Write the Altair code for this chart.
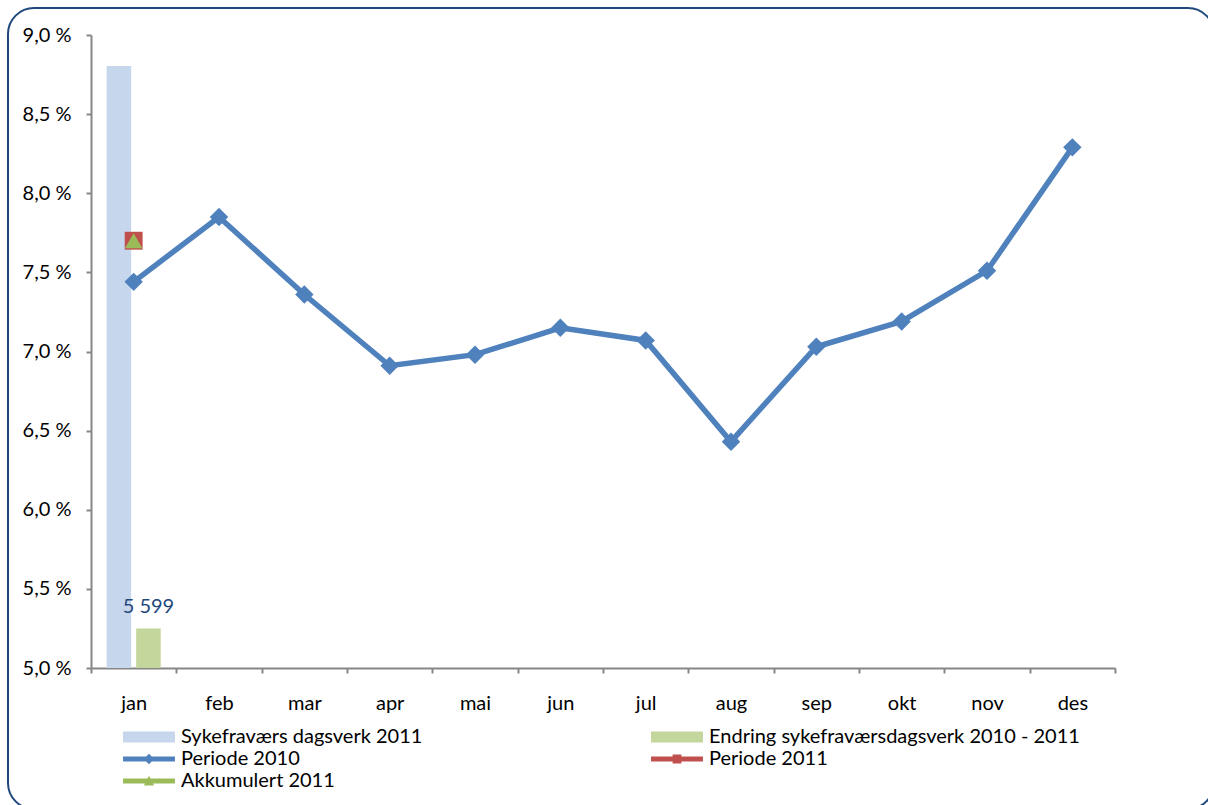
import altair as alt
import pandas as pd

months = ["jan", "feb", "mar", "apr", "mai", "jun", "jul", "aug", "sep", "okt", "nov", "des"]
periode_2010 = [7.44, 7.85, 7.36, 6.91, 6.98, 7.15, 7.07, 6.43, 7.03, 7.19, 7.51, 8.29]
periode_2011_month = ["jan"]
periode_2011 = [7.70]
akkumulert_2011 = [7.70]
bar_month = ["jan", "jan"]
bar_series = ["Sykefraværs dagsverk 2011", "Endring sykefraværsdagsverk 2010 - 2011"]
bar_values = [85600, 5599]
bar_labels = ["", "5 599"]

legend_names = [
    "Sykefraværs dagsverk 2011",
    "Endring sykefraværsdagsverk 2010 - 2011",
    "Periode 2010",
    "Periode 2011",
    "Akkumulert 2011",
]
legend_colors = ["#C6D6EC", "#C3D69B", "#4F81BD", "#C0504D", "#9BBB59"]

FONT = "Lato"
FS = 20

line_df = pd.DataFrame({"month": months, "value": periode_2010})
p11_df = pd.DataFrame({"month": periode_2011_month, "value": periode_2011})
akk_df = pd.DataFrame({"month": periode_2011_month, "value": akkumulert_2011})
bar_df = pd.DataFrame({"month": bar_month, "series": bar_series, "value": bar_values, "label": bar_labels})

x_enc = alt.X(
    "month:N",
    sort=months,
    scale=alt.Scale(domain=months, paddingInner=0, paddingOuter=0),
    axis=alt.Axis(
        title=None, labelAngle=0, tickBand="extent", domainColor="#868686", tickColor="#868686",
        tickSize=5, tickWidth=2, domainWidth=2, labelFont=FONT, labelFontSize=FS, labelColor="#000000",
        labelPadding=20,
    ),
)

y_left_scale = alt.Scale(domain=[5.0, 9.0], zero=False, nice=False)
y_left_axis = alt.Axis(
    title=None, values=[5.0, 5.5, 6.0, 6.5, 7.0, 7.5, 8.0, 8.5, 9.0],
    labelExpr="replace(format(datum.value, '.1f'), '.', ',') + ' %'",
    grid=False, domainColor="#868686", tickColor="#868686", tickSize=5, tickWidth=2, domainWidth=2,
    labelFont=FONT, labelFontSize=FS, labelColor="#000000", labelPadding=15,
)

y_right_scale = alt.Scale(domain=[0, 90000], nice=False)
y_right_axis = alt.Axis(
    title=None, orient="right", values=list(range(0, 90001, 10000)),
    labelExpr="replace(format(datum.value, ',d'), ',', ' ')",
    grid=False, domainColor="#868686", tickColor="#868686", tickSize=5, tickWidth=2, domainWidth=2,
    labelFont=FONT, labelFontSize=FS, labelColor="#000000", labelPadding=13,
)

shape_expr = (
    "datum.value == 'Sykefraværs dagsverk 2011' || datum.value == 'Endring sykefraværsdagsverk 2010 - 2011' "
    "? 'M-2.36,-0.5H2.36V0.5H-2.36Z' : "
    "datum.value == 'Periode 2010' ? 'M-2.36,-0.23H2.36V0.23H-2.36Z M0,-0.48L0.48,0L0,0.48L-0.48,0Z' : "
    "datum.value == 'Periode 2011' ? 'M-2.36,-0.23H2.36V0.23H-2.36Z M-0.4,-0.4H0.4V0.4H-0.4Z' : "
    "'M-2.36,-0.23H2.36V0.23H-2.36Z M0,-0.48L0.46,0.4L-0.46,0.4Z'"
)

xoff_scale = alt.Scale(domain=bar_series, paddingInner=0.17, paddingOuter=0.53)

bars = alt.Chart(bar_df).mark_bar(opacity=1).encode(
    x=x_enc,
    xOffset=alt.XOffset("series:N", sort=bar_series, scale=xoff_scale),
    y=alt.Y("value:Q", scale=y_right_scale, axis=y_right_axis),
    color=alt.Color(
        "series:N",
        scale=alt.Scale(domain=legend_names, range=legend_colors),
        legend=alt.Legend(
            title=None, orient="none", direction="horizontal", legendX=47, legendY=691,
            columns=2, columnPadding=228, rowPadding=1,
            labelFont=FONT, labelFontSize=FS, labelColor="#000000", symbolSize=484,
            symbolStrokeWidth=0, labelOffset=21, labelLimit=600, symbolOpacity=1,
            symbolType={"expr": shape_expr},
        ),
    ),
)

bar_text = alt.Chart(bar_df).mark_text(
    font=FONT, fontSize=FS, color="#1F497D", dy=-16, baseline="alphabetic"
).encode(
    x=alt.X("month:N", sort=months),
    xOffset=alt.XOffset("series:N", sort=bar_series, scale=xoff_scale),
    y=alt.Y("value:Q", scale=y_right_scale, axis=None),
    text="label:N",
)

right_layer = alt.layer(bars, bar_text)

line = alt.Chart(line_df).mark_line(color="#4F81BD", strokeWidth=5.5).encode(
    x=alt.X("month:N", sort=months),
    y=alt.Y("value:Q", scale=y_left_scale, axis=y_left_axis),
)
line_pts = alt.Chart(line_df).mark_point(shape="diamond", filled=True, size=340, color="#4F81BD", opacity=1).encode(
    x=alt.X("month:N", sort=months),
    y=alt.Y("value:Q", scale=y_left_scale),
)
p11_pts = alt.Chart(p11_df).mark_point(shape="square", filled=True, size=320, color="#C0504D", opacity=1).encode(
    x=alt.X("month:N", sort=months),
    y=alt.Y("value:Q", scale=y_left_scale),
)
akk_pts = alt.Chart(akk_df).mark_point(shape="triangle-up", filled=True, size=300, color="#9BBB59", opacity=1).encode(
    x=alt.X("month:N", sort=months),
    y=alt.Y("value:Q", scale=y_left_scale),
)

left_layer = alt.layer(line, line_pts, p11_pts, akk_pts)

border = alt.Chart(pd.DataFrame({"d": [0]})).mark_rect(
    fill="transparent", stroke="#1F497D", strokeWidth=2, cornerRadius=26, clip=False
).encode(
    x=alt.value(-83), x2=alt.value(1123), y=alt.value(-27), y2=alt.value(774),
)

chart = alt.layer(right_layer, left_layer, border).resolve_scale(y="independent").properties(
    width=1024, height=633,
    padding={"left": 91, "top": 35, "right": 93, "bottom": 137},
    autosize=alt.AutoSizeParams(type="none"),
    background="white",
).configure_view(stroke=None)

chart.save("out.html", embed_options={"renderer": "svg", "actions": False})
